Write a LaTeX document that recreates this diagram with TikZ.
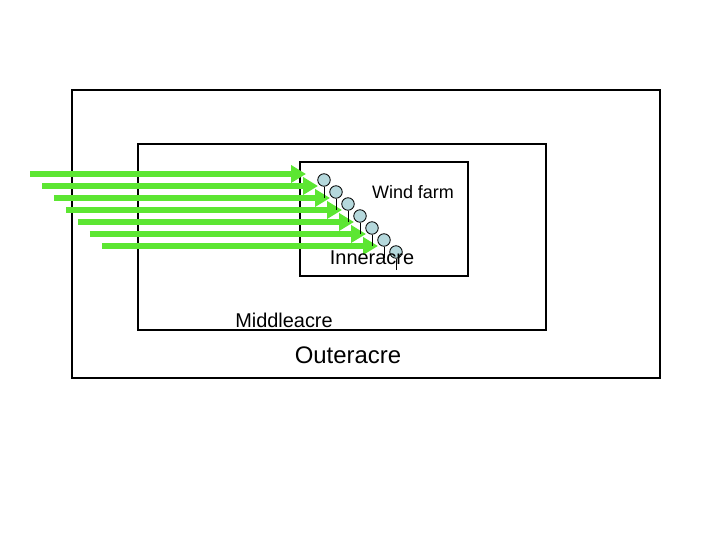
\documentclass[tikz,border=0pt]{standalone}
\usepackage{fontspec}
\setmainfont{Liberation Sans}
\usetikzlibrary{arrows.meta}
\definecolor{windgreen}{HTML}{5CE632}
\definecolor{rotorblue}{HTML}{B5D8DC}
\tikzset{
  acre/.style={line width=1.6pt, draw=black},
  wind/.style={line width=4.8pt, windgreen, -{Triangle[length=0.15in,width=0.17in]}},
  rotor/.style={circle, draw=black, line width=0.6pt, fill=rotorblue, minimum size=0.125in, inner sep=0pt},
  mast/.style={line width=0.6pt, black},
  lbl/.style={inner sep=0pt, text=black}
}

\begin{document}
\begin{tikzpicture}[x=1in,y=1in]
\useasboundingbox (0,0) rectangle (7.2,5.4);
\draw[acre] (0.7200,1.6200) rectangle (6.6000,4.5000);
\draw[acre] (1.3800,2.1000) rectangle (5.4600,3.9600);
\draw[acre] (3.0000,2.6400) rectangle (4.6800,3.7800);
% wind
\foreach \i in {0,...,6} {
  \coordinate (w\i) at ({0.30+0.12*\i},{3.66-0.12*\i});
  \coordinate (e\i) at ({3.06+0.12*\i},{3.66-0.12*\i});
  \draw[wind] (w\i) -- (e\i);
}
% turbines
\foreach \i in {0,...,6} {
  \node[rotor] (r\i) at ({3.24+0.12*\i},{3.60-0.12*\i}) {};
  \coordinate (m\i) at ({3.24+0.12*\i},{3.42-0.12*\i});
  \draw[mast] (r\i) -- (m\i);
}
\node[lbl, font=\fontsize{13}{15}\selectfont] (windfarm) at (4.13,3.48) {Wind farm};
\node[lbl, font=\fontsize{14.4}{16}\selectfont] (inner) at (3.72,2.82) {Inneracre};
\node[lbl, font=\fontsize{14.4}{16}\selectfont] (middle) at (2.84,2.20) {Middleacre};
\node[lbl, font=\fontsize{17.3}{20}\selectfont] (outer) at (3.48,1.85) {Outeracre};
\end{tikzpicture}
\end{document}
